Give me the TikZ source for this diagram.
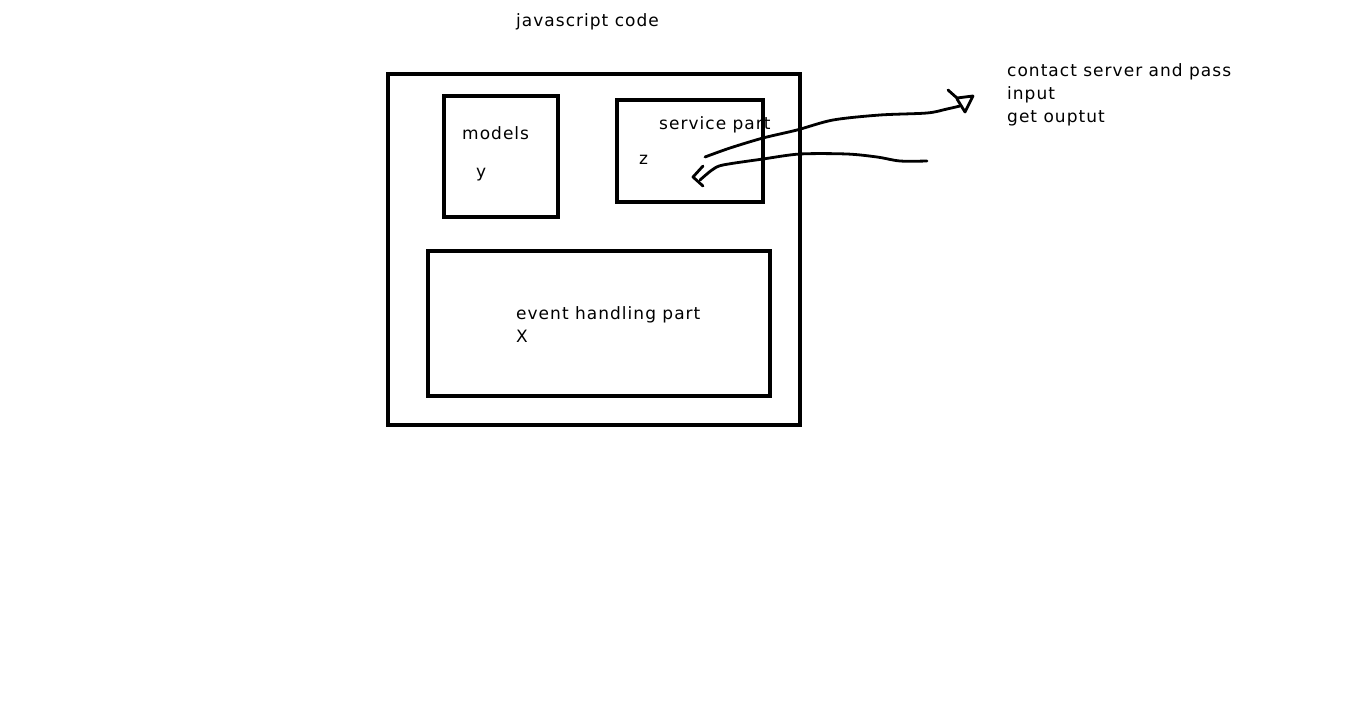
\documentclass[tikz,border=0pt]{standalone}
\usepackage{fontspec}
\setmainfont[LetterSpace=6]{DejaVu Sans}
\begin{document}
\begin{tikzpicture}[x=1pt,y=-1pt,
  box/.style={draw=black,line width=4.5pt,inner sep=0pt},
  lbl/.style={inner sep=0pt,anchor=base west,font=\fontsize{17}{23}\selectfont},
  hand/.style={line width=2.8pt,line cap=round,line join=round}]
\useasboundingbox[fill=white] (0,0) rectangle (1360,715);
% boxes
\node[box,minimum width=412pt,minimum height=351pt] (outer) at (594,249.5) {};
\node[box,minimum width=114pt,minimum height=121pt] (models) at (501,156.5) {};
\node[box,minimum width=146pt,minimum height=102pt] (service) at (690,151) {};
\node[box,minimum width=342pt,minimum height=145pt] (event) at (599,323.5) {};
% texts
\node[lbl] (title) at (516,26) {javascript code};
\node[lbl] (tmodels) at (462,139) {models};
\node[lbl] (ty) at (476,177) {y};
\node[lbl] (tservice) at (659,129) {service part};
\node[lbl] (tz) at (639,164) {z};
\node[lbl] (tevent) at (516,319) {event handling part};
\node[lbl] (tx) at (516,342) {X};
\node[inner sep=0pt,anchor=north west,align=left,font=\fontsize{17}{23}\selectfont] (note) at (1007,63.1) {contact server and pass\\input\\get ouptut};
% hand-drawn connectors
\coordinate (s1) at (705,157);
\coordinate (e1) at (960,106);
\coordinate (s2) at (927,161);
\coordinate (e2) at (700,180);
\draw[hand] plot[smooth,tension=0.5] coordinates {(s1) (730,148) (763,138) (797,130) (833,120) (880,115) (927,113) (947,109) (e1)};
\draw[hand] (948,90) -- (957,98) -- (973,96) -- (965,112) -- (957,99);
\draw[hand] plot[smooth,tension=0.5] coordinates {(s2) (900,161) (877,157) (847,154) (800,154) (763,159) (723,165) (712,170) (e2)};
\draw[hand] (703,166) -- (693,177) -- (703,186);
\end{tikzpicture}
\end{document}
